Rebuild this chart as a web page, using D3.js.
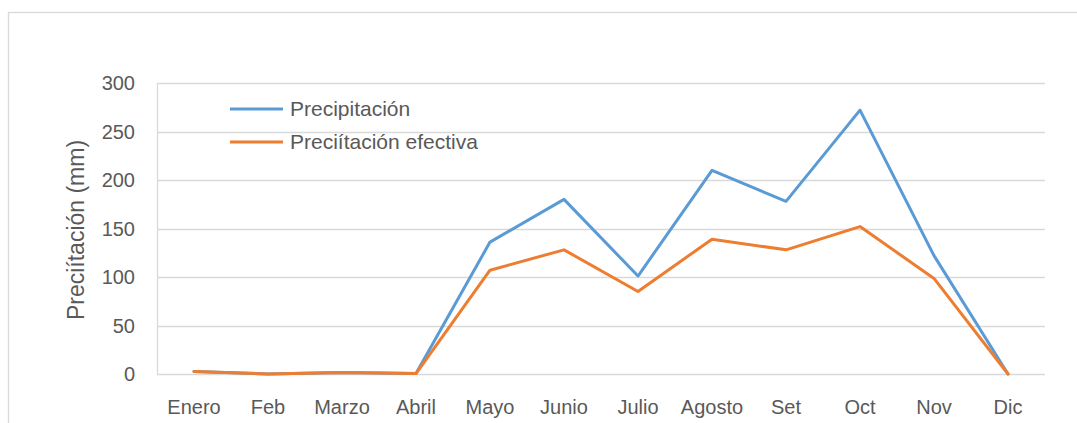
<!DOCTYPE html>
<meta charset="utf-8">
<head>
  <title>Precipitación</title>
</head>
<style>
body { margin: 0; background: #fff; }
svg text { font-family: "Liberation Sans", Arial, sans-serif; fill: #595959; }
.grid line { stroke: #d9d9d9; stroke-width: 1.3px; }
.series { fill: none; stroke-width: 3px; stroke-linejoin: round; stroke-linecap: round; }
</style>
<body>
<script src="https://cdn.jsdelivr.net/npm/d3@7"></script>
<script>
var width = 1077,
  height = 423

// data
var months = ["Enero", "Feb", "Marzo", "Abril", "Mayo", "Junio", "Julio", "Agosto", "Set", "Oct", "Nov", "Dic"]
var precipitacion = [2.5, 0, 1.5, 0.5, 136, 180, 101, 210, 178, 272, 122, 0]
var efectiva = [2.5, 0, 1.5, 0.5, 107, 128, 85, 139, 128, 152, 98.5, 0]
var yTicks = [0, 50, 100, 150, 200, 250, 300]
var seriesNames = ["Precipitación", "Preciítación efectiva"]
var colors = ["#5b9bd5", "#ed7d31"]

var plot = {left: 157, right: 1045, top: 83, bottom: 374}

var svg = d3.select("body").append("svg")
    .attr("width", width)
    .attr("height", height)

// outer chart frame (runs off the right / bottom edge)
svg.append("rect")
    .attr("x", 8.5).attr("y", 12.5)
    .attr("width", width + 20).attr("height", height + 20)
    .style("fill", "none")
    .style("stroke", "#d9d9d9")
    .style("stroke-width", 1.3)

var x = d3.scaleBand()
    .domain(months)
    .range([plot.left, plot.right])

var y = d3.scaleLinear()
    .domain([0, 300])
    .range([plot.bottom, plot.top])

// gridlines
var grid = svg.append("g").attr("class", "grid")
grid.selectAll("line")
    .data(yTicks)
  .enter().append("line")
    .attr("x1", plot.left).attr("x2", plot.right)
    .attr("y1", function(d) { return Math.round(y(d)) + 0.5 })
    .attr("y2", function(d) { return Math.round(y(d)) + 0.5 })

// left axis line
grid.append("line")
    .attr("x1", plot.left + 0.5).attr("x2", plot.left + 0.5)
    .attr("y1", plot.top).attr("y2", plot.bottom)

// y tick labels
svg.append("g").selectAll("text")
    .data(yTicks)
  .enter().append("text")
    .attr("x", 135)
    .attr("y", function(d) { return y(d) })
    .attr("dy", "0.35em")
    .style("text-anchor", "end")
    .style("font-size", "20px")
    .text(function(d) { return d })

// x tick labels
svg.append("g").selectAll("text")
    .data(months)
  .enter().append("text")
    .attr("x", function(d) { return x(d) + x.bandwidth() / 2 })
    .attr("y", 407)
    .attr("dy", "0.35em")
    .style("text-anchor", "middle")
    .style("font-size", "20px")
    .text(function(d) { return d })

// axis title
svg.append("text")
    .attr("transform", "translate(84,230) rotate(-90)")
    .style("text-anchor", "middle")
    .style("font-size", "23px")
    .text("Preciítación (mm)")

var line = d3.line()
    .x(function(d, i) { return x(months[i]) + x.bandwidth() / 2 })
    .y(function(d) { return y(d) })

// draw blue first, orange on top
;[precipitacion, efectiva].forEach(function(values, i) {
  svg.append("path")
      .datum(values)
      .attr("class", "series")
      .style("stroke", colors[i])
      .attr("d", line)
})

// legend
var legend = svg.append("g").selectAll("g")
    .data(seriesNames)
  .enter().append("g")
    .attr("transform", function(d, i) { return "translate(230," + (109 + i * 33) + ")" })

legend.append("line")
    .attr("x1", 0).attr("x2", 53)
    .style("stroke", function(d, i) { return colors[i] })
    .style("stroke-width", 3)

legend.append("text")
    .attr("x", 60)
    .attr("dy", "0.35em")
    .style("font-size", "21px")
    .text(function(d) { return d })
</script>
</body>
</html>
